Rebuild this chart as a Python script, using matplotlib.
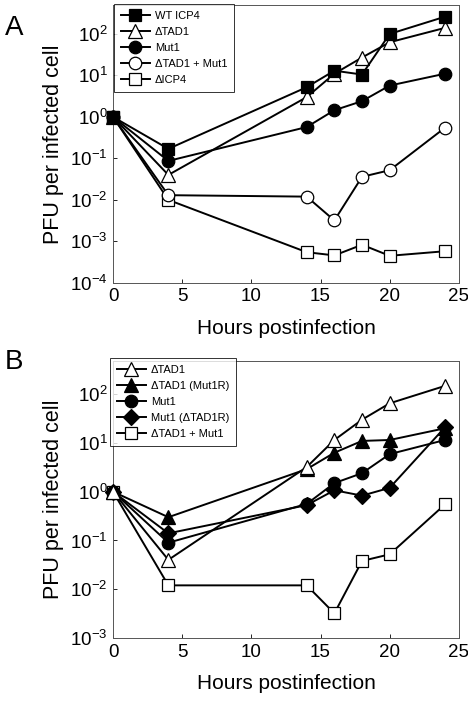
import matplotlib
matplotlib.use("Agg")
import matplotlib.pyplot as plt
from matplotlib.ticker import LogLocator, LogFormatterMathtext, NullLocator

plt.rcParams['font.family'] = ['Liberation Sans', 'DejaVu Sans']
plt.rcParams['axes.unicode_minus'] = True

hours = [0, 4, 14, 16, 18, 20, 24]

# Panel A
a_labels = ["WT ICP4", "\u0394TAD1", "Mut1", "\u0394TAD1 + Mut1", "\u0394ICP4"]
a_wt = [1.0, 0.17, 5.2, 13, 10.5, 100, 260]
a_tad1 = [1.0, 0.04, 3.0, 11, 27, 63, 140]
a_mut1 = [1.0, 0.087, 0.57, 1.45, 2.4, 5.7, 11]
a_tad1_mut1 = [1.0, 0.013, 0.012, 0.0032, 0.036, 0.052, 0.55]
a_icp4 = [1.0, 0.010, 0.00055, 0.00046, 0.00083, 0.00045, 0.00058]

# Panel B
b_labels = ["\u0394TAD1", "\u0394TAD1 (Mut1R)", "Mut1", "Mut1 (\u0394TAD1R)", "\u0394TAD1 + Mut1"]
b_tad1 = [1.0, 0.04, 3.2, 11.5, 30, 65, 148]
b_tad1_r = [1.0, 0.30, 2.9, 6.3, 11, 11.5, 20]
b_mut1 = [1.0, 0.09, 0.56, 1.5, 2.4, 5.9, 11.5]
b_mut1_r = [1.0, 0.14, 0.53, 1.07, 0.83, 1.2, 21]
b_tad1_mut1 = [1.0, 0.012, 0.012, 0.0032, 0.038, 0.052, 0.55]

xticks = [0, 5, 10, 15, 20, 25]

fig = plt.figure(figsize=(4.68, 7.02), dpi=100)

def style(kind):
    d = dict(color='black', lw=1.4, markeredgecolor='black', markeredgewidth=0.9)
    if kind == 'fsq':
        d.update(marker='s', mfc='black', ms=8)
    elif kind == 'osq':
        d.update(marker='s', mfc='white', ms=8.5)
    elif kind == 'otri':
        d.update(marker='^', mfc='white', ms=9.5)
    elif kind == 'ftri':
        d.update(marker='^', mfc='black', ms=9.5)
    elif kind == 'fcirc':
        d.update(marker='o', mfc='black', ms=9)
    elif kind == 'ocirc':
        d.update(marker='o', mfc='white', ms=9)
    elif kind == 'fdia':
        d.update(marker='D', mfc='black', ms=8)
    return d

def setup(ax, ymin, ymax):
    ax.set_yscale('log')
    ax.set_ylim(ymin, ymax)
    ax.set_xlim(0, 25)
    ax.set_xticks(xticks)
    ax.yaxis.set_major_locator(LogLocator(base=10, numticks=20))
    ax.yaxis.set_major_formatter(LogFormatterMathtext())
    ax.yaxis.set_minor_locator(NullLocator())
    ax.tick_params(direction='in', length=3, width=0.6, labelsize=13.5, pad=4)
    for s in ax.spines.values():
        s.set_linewidth(0.7)
        s.set_color('#555555')
    ax.set_xlabel("Hours postinfection", fontsize=15, labelpad=10)
    ax.set_ylabel("PFU per infected cell", fontsize=15.5, labelpad=4)

def legend(ax, x0, y0):
    h, l = ax.get_legend_handles_labels()
    leg = ax.legend(h[::-1], l[::-1], loc='upper left', bbox_to_anchor=(x0 / 468, 1 - y0 / 702),
                    bbox_transform=fig.transFigure, fontsize=8, frameon=True, fancybox=False,
                    edgecolor='black', handlelength=2.6, labelspacing=0.55, borderpad=0.6,
                    handletextpad=0.5, borderaxespad=0)
    leg.get_frame().set_linewidth(0.7)
    return leg

# Panel A
axA = fig.add_axes([0.2415, 0.597, 0.739, 0.396])
setup(axA, 1e-4, 500)
seriesA = [(a_wt, 'fsq'), (a_tad1, 'otri'), (a_mut1, 'fcirc'), (a_tad1_mut1, 'ocirc'), (a_icp4, 'osq')]
for i in range(len(seriesA) - 1, -1, -1):
    vals, kind = seriesA[i]
    axA.plot(hours, vals, label=a_labels[i], zorder=3 + (len(seriesA) - i) * 0.1, clip_on=False, **style(kind))
legend(axA, 114, 4)

# Panel B
axB = fig.add_axes([0.2415, 0.0912, 0.739, 0.3946])
setup(axB, 1e-3, 480)
seriesB = [(b_tad1, 'otri'), (b_tad1_r, 'ftri'), (b_mut1, 'fcirc'), (b_mut1_r, 'fdia'), (b_tad1_mut1, 'osq')]
for i in range(len(seriesB) - 1, -1, -1):
    vals, kind = seriesB[i]
    axB.plot(hours, vals, label=b_labels[i], zorder=3 + (len(seriesB) - i) * 0.1, clip_on=False, **style(kind))
legend(axB, 110, 358)

fig.text(5 / 468, 1 - 28 / 702, "A", fontsize=20, ha='left', va='center')
fig.text(5 / 468, 1 - 362 / 702, "B", fontsize=20, ha='left', va='center')

fig.savefig("out.png", dpi=100)
